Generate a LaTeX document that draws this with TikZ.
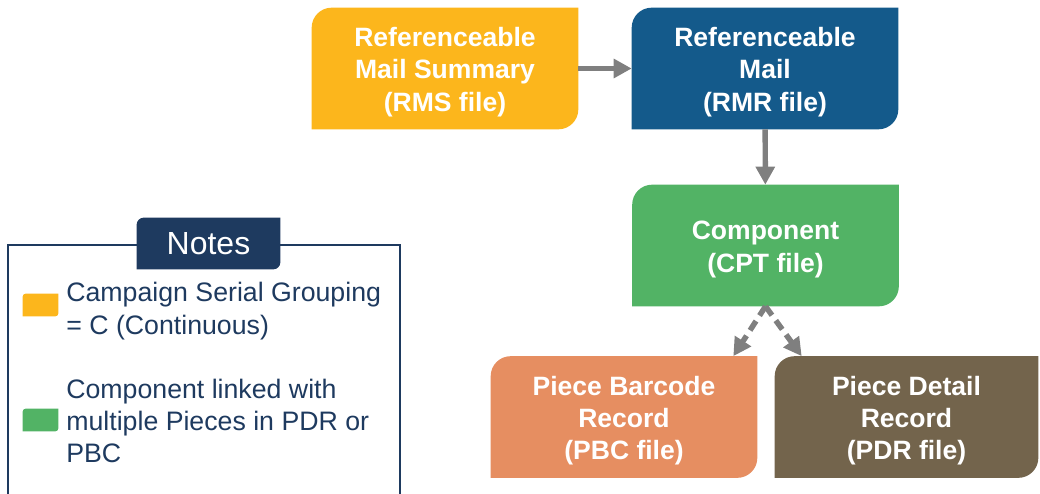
\documentclass[tikz,border=0pt]{standalone}
\usepackage{fontspec}
\setmainfont{Liberation Sans}
\usepackage{tikz}
\usepackage{xcolor}
\usetikzlibrary{arrows.meta, calc, backgrounds, positioning}

\definecolor{rmscol}{HTML}{FCB61C}
\definecolor{rmrcol}{HTML}{145A8B}
\definecolor{cptcol}{HTML}{52B365}
\definecolor{pbccol}{HTML}{E68E61}
\definecolor{pdrcol}{HTML}{73644C}
\definecolor{notecol}{HTML}{1E3A5F}
\definecolor{flowcol}{HTML}{7F7F7F}

% fill behind a node, rounded at top left and bottom right
\newcommand{\diagfill}[3]{%
  \fill[#2] (#1.south west) -- ($(#1.north west)+(0,#3)$)
    arc[start angle=180, end angle=90, radius=#3*0.02cm] -- (#1.north east)
    -- ($(#1.south east)+(0,-#3)$)
    arc[start angle=0, end angle=-90, radius=#3*0.02cm] -- cycle;}

\tikzset{
  filebox/.style={minimum width=5.32cm, minimum height=2.42cm, inner sep=0pt,
    align=center, text=white, font=\fontsize{15.1}{18.4}\selectfont\bfseries},
  flow/.style={draw=flowcol, line width=3.1pt,
    -{Triangle[length=0.36cm, width=0.37cm]}},
  dashflow/.style={flow, dash pattern=on 0.22cm off 0.13cm},
  notetext/.style={anchor=west, align=left, inner sep=0pt, text=notecol,
    font=\fontsize{15.2}{18.4}\selectfont}
}

\begin{document}
\begin{tikzpicture}[x=0.02cm, y=-0.02cm]
  \useasboundingbox (0, 0) rectangle (1040, 493);
  \clip (0, 0) rectangle (1040, 493);
  \node[filebox] (rms) at (445, 68.5) {\rule{0pt}{15pt}Referenceable\\Mail Summary\\(RMS file)};
  \node[filebox] (rmr) at (765, 68.5) {\rule{0pt}{15pt}Referenceable\\Mail\\(RMR file)};
  \node[filebox] (cpt) at (765.5, 245.5) {\rule{0pt}{15pt}Component\\(CPT file)};
  \node[filebox] (pbc) at (624, 417) {\rule{0pt}{15pt}Piece Barcode\\Record\\(PBC file)};
  \node[filebox, minimum width=5.26cm] (pdr) at (906.5, 417) {\rule{0pt}{15pt}Piece Detail\\Record\\(PDR file)};
  \begin{scope}[on background layer]
    \diagfill{rms}{rmscol}{20}
    \diagfill{rmr}{rmrcol}{20}
    \diagfill{cpt}{cptcol}{20}
    \diagfill{pbc}{pbccol}{20}
    \diagfill{pdr}{pdrcol}{20}
  \end{scope}
  \draw[flow]
  (rms) -- (rmr);
  \draw[flow]
  (rmr) -- (cpt);
  \draw[dashflow]
  (cpt.south) -- ($(pbc.north east)+(-24, 0)$);
  \draw[dashflow]
  (cpt.south) -- ($(pdr.north west)+(27, 0)$);

  % notes
  \draw[notecol, line width=1.2pt] (8, 530) -- (8, 245) -- (400, 245) -- (400, 530);
  \node[minimum width=2.86cm, minimum height=1.02cm, inner sep=0pt, text=white,
    font=\fontsize{18.2}{21}\selectfont] (notes) at (208.5, 243.5) {Notes};
  \node[minimum width=0.7cm, minimum height=0.44cm, inner sep=0pt] (swrms) at (40.5, 305) {};
  \node[minimum width=0.7cm, minimum height=0.44cm, inner sep=0pt] (swcpt) at (40.5, 420) {};
  \begin{scope}[on background layer]
    \diagfill{notes}{notecol}{7}
    \diagfill{swrms}{rmscol}{3}
    \diagfill{swcpt}{cptcol}{3}
  \end{scope}
  \node[notetext] (txrms) at (66, 311) {Campaign Serial Grouping\\= C (Continuous)};
  \node[notetext] (txcpt) at (66, 421) {Component linked with\\multiple Pieces in PDR or\\PBC};
\end{tikzpicture}
\end{document}
